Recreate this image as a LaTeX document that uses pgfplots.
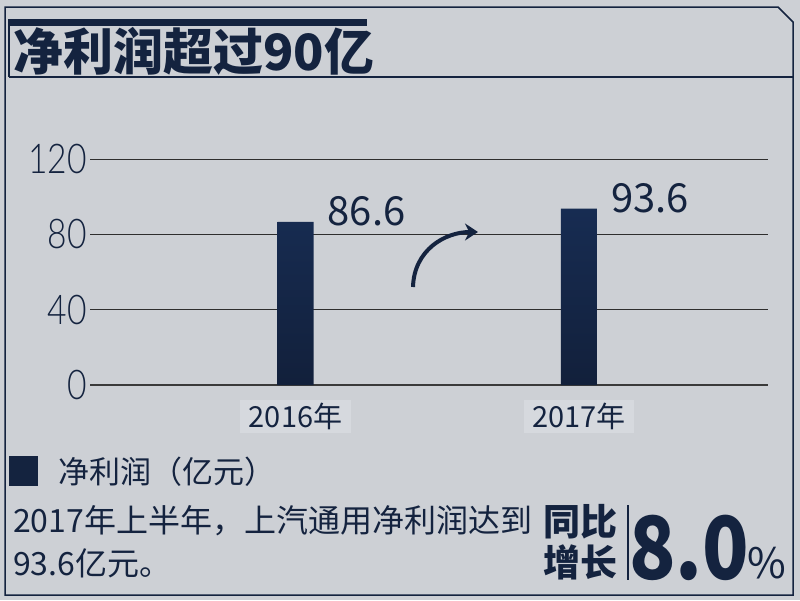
\documentclass[border=0pt]{standalone}
\usepackage{pgfplots}
\pgfplotsset{compat=1.18}
\usepackage{graphicx}
\usepackage{fontspec}
\usetikzlibrary{arrows.meta}
\setmainfont{Noto Sans CJK SC}
\newfontfamily\lightfont{Lato Light}

\definecolor{bg}{HTML}{CDD0D5}
\definecolor{navy}{HTML}{14233F}
\definecolor{bartop}{HTML}{172C52}
\definecolor{barbot}{HTML}{12203B}
\definecolor{boxcol}{HTML}{D6D9DE}
\definecolor{gridcol}{HTML}{2E2E2E}
\definecolor{axiscol}{HTML}{3A3A3A}

\newcommand\fs[1]{\fontsize{#1}{#1}\selectfont}
\newcommand\hs[1]{\scalebox{0.82}[1]{#1}}

\begin{document}
\begin{tikzpicture}
\path[use as bounding box, fill=bg] (0,0) rectangle (800pt,-600pt);

\begin{axis}[
  at={(90pt,-385pt)}, anchor=south west,
  scale only axis, width=678pt, height=226pt,
  xmin=-0.725, xmax=1.667, ymin=0, ymax=120,
  axis x line*=bottom, axis y line*=left,
  y axis line style={draw=none},
  x axis line style={-, line width=2pt, draw=axiscol},
  ymajorgrids, grid style={line width=1pt, draw=gridcol},
  major tick length=0pt,
  xtick={0,1}, xticklabels={2016年,2017年},
  xticklabel style={font=\fs{29}, text=navy, fill=boxcol, inner sep=0pt,
    minimum width=110pt, minimum height=33pt, anchor=north, yshift=-15pt},
  ytick={0,40,80,120}, yticklabels={\hs{0},\hs{40},\hs{80},\hs{120}},
  yticklabel style={font=\fs{41}\lightfont, text=navy, inner sep=0pt,
    anchor=east, xshift=-3pt},
  point meta=explicit symbolic,
  nodes near coords,
  every node near coord/.append style={font=\fs{40}, text=navy,
    anchor=base west, xshift=32pt, yshift=-4pt, inner sep=0pt},
]
\addplot[ybar, bar width=36pt, top color=bartop, bottom color=barbot, draw=none]
  coordinates {(0,86.6)[86.6] (1,93.6)[93.6]};
\end{axis}

\begin{scope}[x=1pt, y=-1pt]
  % frame
  \draw[navy, line width=1.5pt] (5,7) -- (778,7) -- (793,22) -- (793,595) -- (5,595) -- cycle;
  % title box
  \fill[navy] (9,19) rectangle (367,26);
  \draw[navy, line width=1.2pt] (9,19) -- (9,77);
  \draw[navy, line width=2.5pt] (9,77) -- (793,77);
  \node[anchor=west, inner sep=0pt, text=navy, font=\fs{50}\bfseries] at (13,51.5) {净利润超过90亿};
  % arrow
  \draw[navy, line width=4pt, -{Stealth[length=13pt, width=17pt]}]
    (413,287) .. controls (414,250) and (445,232) .. (478,232);
  % legend
  \fill[navy] (9,456) rectangle (38,486);
  \node[anchor=west, inner sep=0pt, text=navy, font=\fs{31}] at (58,472) {净利润（亿元）};
  % note
  \node[anchor=west, inner sep=0pt, text=navy, font=\fs{32}] at (13,521) {2017年上半年，上汽通用净利润达到};
  \node[anchor=west, inner sep=0pt, text=navy, font=\fs{32}] at (13,563) {93.6亿元。};
  \node[inner sep=0pt, text=navy, font=\fs{37}\bfseries] at (580,522) {同比};
  \node[inner sep=0pt, text=navy, font=\fs{37}\bfseries] at (580,562) {增长};
  \draw[navy, line width=2pt] (628,505) -- (628,580);
  \node[anchor=base west, inner sep=0pt, text=navy, font=\fs{87}\bfseries] at (629,579) {\scalebox{0.88}[1]{8.0}};
  \node[anchor=base west, inner sep=0pt, text=navy, font=\fs{42}] at (747,578) {\%};
\end{scope}
\end{tikzpicture}
\end{document}
